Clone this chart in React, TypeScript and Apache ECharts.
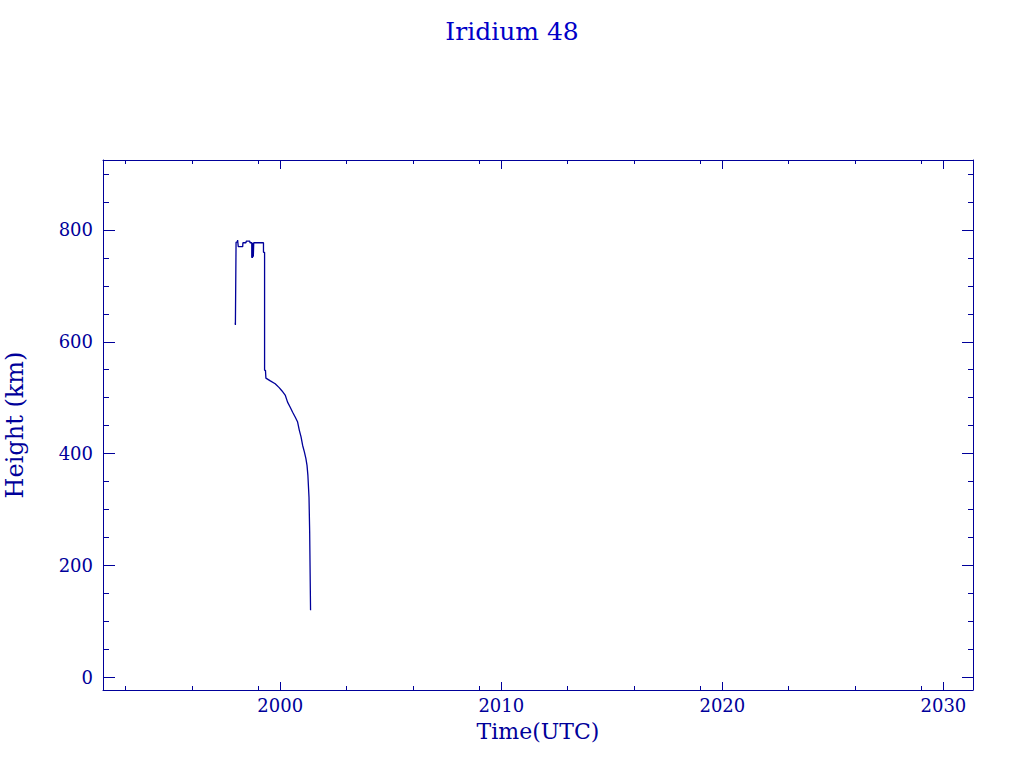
import React, { useEffect, useRef } from "react";
import * as echarts from "echarts";

const years = [
  1997.96, 1997.97, 1998.0, 1998.0, 1998.06, 1998.07, 1998.09, 1998.1, 1998.3, 1998.31,
  1998.45, 1998.46, 1998.62, 1998.63, 1998.71, 1998.71, 1998.73, 1998.73, 1998.74, 1998.76,
  1998.76, 1998.78, 1998.78, 1998.8, 1998.8, 1999.24, 1999.24, 1999.29, 1999.29, 1999.33,
  1999.35, 1999.55, 1999.77, 1999.95, 2000.08, 2000.23, 2000.33, 2000.45, 2000.56, 2000.68,
  2000.78, 2000.86, 2000.94, 2001.01, 2001.09, 2001.16, 2001.21, 2001.25, 2001.3, 2001.33,
  2001.37,
];
const heights = [
  634, 630, 630, 778, 778, 782, 782, 770, 770, 777,
  777, 780, 780, 777, 777, 750, 750, 777, 750, 750,
  777, 777, 752, 752, 777, 777, 760, 760, 549, 549,
  535, 530, 525, 518, 512, 504, 492, 483, 474, 465,
  457, 442, 430, 415, 403, 391, 379, 361, 322, 260,
  120,
];
const xMajorTicks = [2000, 2010, 2020, 2030];
const xMinorTicks = [1993, 1996, 1999, 2003, 2006, 2009, 2013, 2016, 2019, 2023, 2026, 2029];
const yMajorTicks = [0, 200, 400, 600, 800];
const yMinorTicks = [50, 100, 150, 250, 300, 350, 450, 500, 550, 650, 700, 750, 850, 900];

const AXIS = "#00009a";
const TITLE = "#0000c8";
const FONT = "DejaVu Serif";

export default function App() {
  const ref = useRef<HTMLDivElement>(null);
  useEffect(() => {
    if (!ref.current) return;
    const chart = echarts.init(ref.current, null, { renderer: "svg" });
    const xBase = { type: "value", min: 1991.98, max: 2031.34, splitLine: { show: false } };
    const yBase = { type: "value", min: -22.7, max: 925, splitLine: { show: false } };
    const line = { show: true, onZero: false, lineStyle: { color: AXIS, width: 1 } };
    const noLine = { show: false, onZero: false };
    chart.setOption({
      animation: false,
      backgroundColor: "#ffffff",
      title: {
        text: "Iridium 48",
        left: "center",
        top: 14,
        textStyle: { fontFamily: FONT, fontSize: 25, fontWeight: "normal", color: TITLE },
      },
      grid: { left: 103, right: 51, top: 160, bottom: 78, containLabel: false, outerBoundsMode: "none" },
      xAxis: [
        {
          ...xBase,
          position: "bottom",
          axisLine: line,
          axisTick: { show: true, inside: true, length: 8, lineStyle: { color: AXIS }, customValues: xMajorTicks },
          axisLabel: { show: true, margin: 6, customValues: xMajorTicks, color: AXIS, fontFamily: FONT, fontSize: 18, formatter: (v: number) => String(Math.round(v)) },
          name: "Time(UTC)",
          nameLocation: "middle",
          nameGap: 30,
          nameTextStyle: { fontFamily: FONT, fontSize: 22, color: AXIS },
        },
        {
          ...xBase,
          position: "bottom",
          axisLine: noLine,
          axisTick: { show: true, inside: true, length: 4, lineStyle: { color: AXIS }, customValues: xMinorTicks },
          axisLabel: { show: false },
        },
        {
          ...xBase,
          position: "top",
          axisLine: line,
          axisTick: { show: true, inside: true, length: 9, lineStyle: { color: AXIS }, customValues: xMajorTicks },
          axisLabel: { show: false },
        },
        {
          ...xBase,
          position: "top",
          axisLine: noLine,
          axisTick: { show: true, inside: true, length: 4, lineStyle: { color: AXIS }, customValues: xMinorTicks },
          axisLabel: { show: false },
        },
      ],
      yAxis: [
        {
          ...yBase,
          position: "left",
          axisLine: line,
          axisTick: { show: true, inside: true, length: 12, lineStyle: { color: AXIS }, customValues: yMajorTicks },
          axisLabel: { show: true, margin: 10, customValues: yMajorTicks, color: AXIS, fontFamily: FONT, fontSize: 18, formatter: (v: number) => String(Math.round(v)) },
          name: "Height (km)",
          nameLocation: "middle",
          nameGap: 76,
          nameTextStyle: { fontFamily: FONT, fontSize: 24, color: AXIS },
        },
        {
          ...yBase,
          position: "left",
          axisLine: noLine,
          axisTick: { show: true, inside: true, length: 6, lineStyle: { color: AXIS }, customValues: yMinorTicks },
          axisLabel: { show: false },
        },
        {
          ...yBase,
          position: "right",
          axisLine: line,
          axisTick: { show: true, inside: true, length: 11, lineStyle: { color: AXIS }, customValues: yMajorTicks },
          axisLabel: { show: false },
        },
        {
          ...yBase,
          position: "right",
          axisLine: noLine,
          axisTick: { show: true, inside: true, length: 5, lineStyle: { color: AXIS }, customValues: yMinorTicks },
          axisLabel: { show: false },
        },
      ],
      series: [
        {
          type: "line",
          xAxisIndex: 0,
          yAxisIndex: 0,
          data: years.map((y, i) => [y, heights[i]]),
          showSymbol: false,
          symbol: "none",
          lineStyle: { color: AXIS, width: 1.3 },
          clip: true,
        },
      ],
    });
    return () => chart.dispose();
  }, []);
  return <div ref={ref} style={{ position: "fixed", left: 0, top: 0, width: 1024, height: 768 }} />;
}
